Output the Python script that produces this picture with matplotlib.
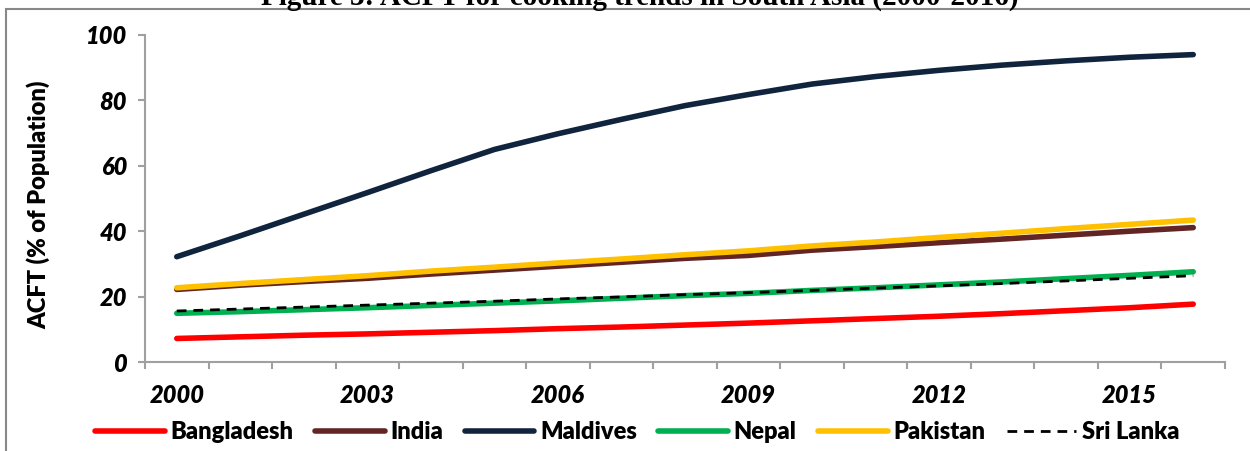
import matplotlib.pyplot as plt
from matplotlib.patches import Rectangle

years = list(range(2000, 2017))
bangladesh = [7.2, 7.7, 8.2, 8.6, 9.1, 9.6, 10.2, 10.7, 11.3, 11.9, 12.6, 13.3, 14.0, 14.8, 15.7, 16.6, 17.7]
india = [22.2, 23.5, 24.6, 25.6, 26.9, 28.1, 29.3, 30.5, 31.7, 32.6, 34.2, 35.3, 36.5, 37.6, 38.8, 40.0, 41.1]
maldives = [32.2, 38.6, 45.2, 51.8, 58.5, 65.0, 69.8, 74.2, 78.4, 81.8, 85.0, 87.3, 89.2, 90.8, 92.1, 93.2, 94.0]
nepal = [14.9, 15.4, 16.0, 16.6, 17.3, 18.0, 18.7, 19.5, 20.3, 21.0, 21.9, 22.7, 23.6, 24.5, 25.5, 26.5, 27.6]
pakistan = [22.7, 24.0, 25.2, 26.4, 27.8, 29.0, 30.3, 31.5, 32.8, 34.0, 35.5, 36.7, 38.1, 39.4, 40.8, 42.1, 43.4]
sri_lanka = [15.6, 16.2, 16.8, 17.4, 18.0, 18.6, 19.3, 19.9, 20.6, 21.2, 21.9, 22.6, 23.3, 24.0, 24.8, 25.6, 26.4]

plt.rcParams['font.family'] = ['Lato', 'DejaVu Sans']

fig = plt.figure(figsize=(12.5, 4.51), dpi=100)
ax = fig.add_axes([0.116, 0.1973, 0.864, 0.7251])

x = list(range(len(years)))
ax.plot(x, bangladesh, color='#FF0000', lw=4, solid_capstyle='round', label='Bangladesh')
ax.plot(x, india, color='#632523', lw=4, solid_capstyle='round', label='India')
ax.plot(x, maldives, color='#10243E', lw=4, solid_capstyle='round', label='Maldives')
ax.plot(x, nepal, color='#00B050', lw=4, solid_capstyle='round', label='Nepal')
ax.plot(x, pakistan, color='#FFC000', lw=4, solid_capstyle='round', label='Pakistan')
ax.plot(x, sri_lanka, color='black', lw=2, linestyle=(0, (3.5, 2.5)), label='Sri Lanka')

ax.set_xlim(-0.5, len(years) - 0.5)
ax.set_ylim(0, 100)
ax.set_yticks(range(0, 101, 20))
ax.set_xticks(x[::3])
ax.set_xticklabels([str(y) for y in years[::3]])
ax.set_xticks([i - 0.5 for i in range(len(years) + 1)], minor=True)

for s in ['top', 'right']:
    ax.spines[s].set_visible(False)
for s in ['left', 'bottom']:
    ax.spines[s].set_color('#A0A0A0')
    ax.spines[s].set_linewidth(1.5)

ax.tick_params(axis='x', which='major', length=0, pad=16)
ax.tick_params(axis='x', which='minor', length=5, color='#A0A0A0', width=1.5)
ax.tick_params(axis='y', length=5, color='#A0A0A0', width=1.5, pad=8)
for lab in ax.get_xticklabels() + ax.get_yticklabels():
    lab.set_fontsize(17)
    lab.set_fontweight('heavy')
    lab.set_fontstyle('italic')

ax.set_ylabel('ACFT (% of Population)', fontsize=17, fontweight='heavy')
ax.yaxis.set_label_coords(-0.088, 0.48)

fig.legend(loc='center', bbox_to_anchor=(0.51, 1 - 432 / 451), ncol=6, frameon=False,
           prop={'size': 17, 'weight': 'heavy'}, handlelength=2.95, handletextpad=0.25,
           columnspacing=0.9)

fig.text(0.512, 1 - 5 / 451, 'Figure 3: ACFT for cooking trends in South Asia (2000-2016)',
         ha='center', va='baseline', fontsize=21, fontweight='bold', family='Liberation Serif')

fig.patches.append(Rectangle((6 / 1250, -0.1), 1.2, 1 - 9 / 451 + 0.1, transform=fig.transFigure,
                             fill=False, edgecolor='#888888', lw=1.5))

fig.savefig('out.png', dpi=100)
